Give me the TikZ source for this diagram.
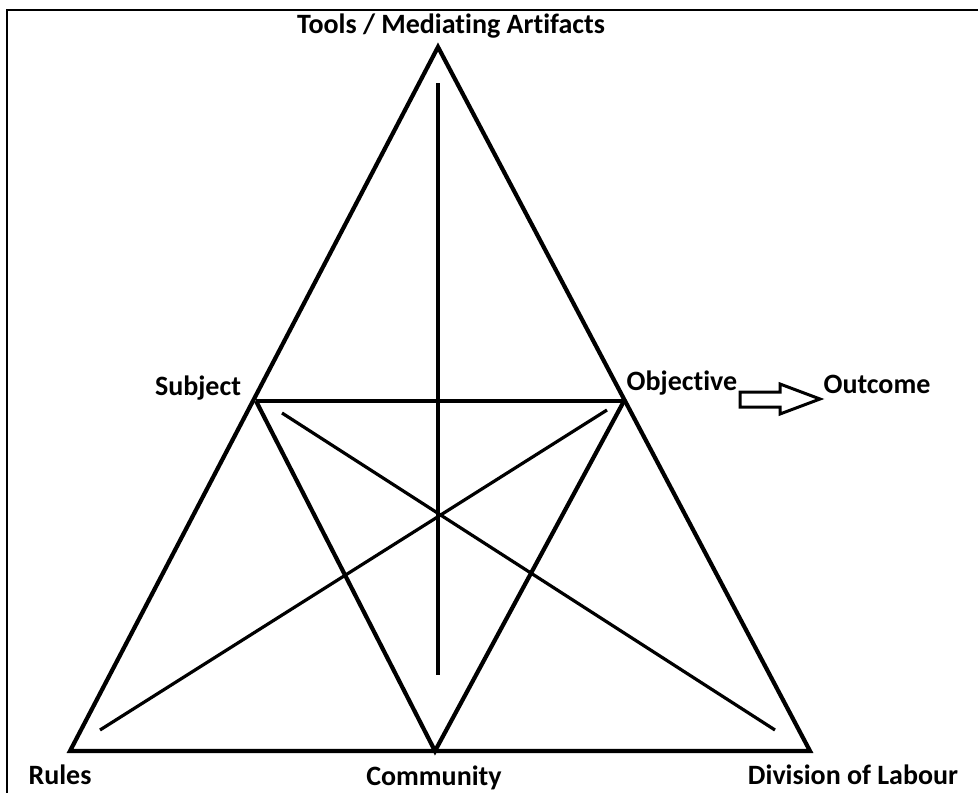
\documentclass[tikz,border=0pt]{standalone}
\usepackage{fontspec}
\setmainfont[RawFeature={-liga}]{Carlito}
\begin{document}
\begin{tikzpicture}[x=1pt,y=-1pt,
  lbl/.style={font=\bfseries\fontsize{28}{32}\selectfont, inner sep=0pt, anchor=base},
  edge/.style={line width=4.2pt, line join=miter},
  inner/.style={line width=3.2pt}]
\useasboundingbox (0,0) rectangle (978,793);
\fill[white] (0,0) rectangle (978,793);
% frame
\draw[line width=2.5pt] (7,793) -- (7,10) -- (978,10);
% vertices
\coordinate (T) at (438,47);
\coordinate (S) at (256,401);
\coordinate (O) at (624,401);
\coordinate (R) at (70,751);
\coordinate (C) at (435,751);
\coordinate (D) at (810,751);
\coordinate (v1) at (438,83);
\coordinate (v2) at (438,675);
\coordinate (a1) at (282,413);
\coordinate (a2) at (775,730);
\coordinate (b1) at (607,410);
\coordinate (b2) at (100,730);
% triangles
\draw[edge] (T) -- (D) -- (R) -- cycle;
\draw[edge] (S) -- (O);
\draw[edge] (S) -- (C) -- (O);
\draw[edge] (v1) -- (v2);
\draw[inner] (a1) -- (a2);
\draw[inner] (b1) -- (b2);
% hollow arrow
\draw[line width=3pt, line join=miter] (740,392) -- (780,392) -- (780,384) -- (820,399) -- (780,414) -- (780,407) -- (740,407) -- cycle;
% labels
\node[lbl] (tl) at (451,33) {Tools / Mediating Artifacts};
\node[lbl] (sl) at (198,395) {Subject};
\node[lbl] (ol) at (682,390) {Objective};
\node[lbl] (ou) at (877,393) {Outcome};
\node[lbl] (rl) at (60,784) {Rules};
\node[lbl] (cl) at (434,785) {Community};
\node[lbl] (dl) at (853,784) {Division of Labour};
\end{tikzpicture}
\end{document}
